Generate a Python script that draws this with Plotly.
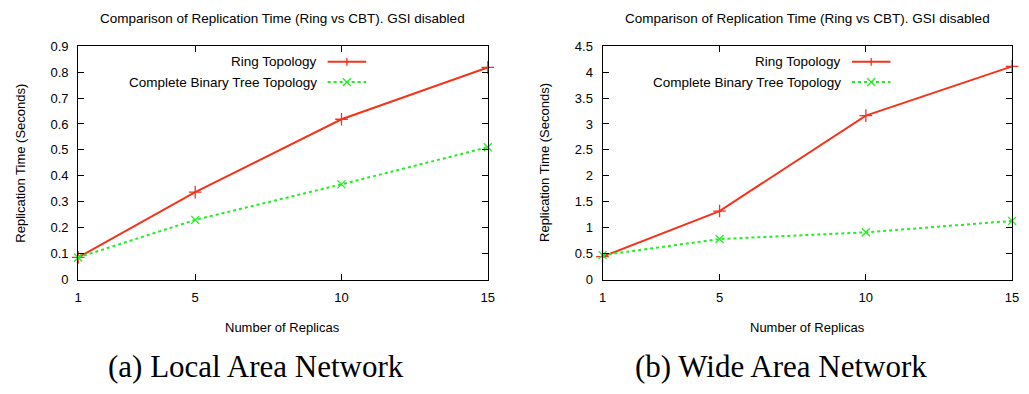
import plotly.graph_objects as go

replicas = [1, 5, 10, 15]
lan_ring = [0.085, 0.337, 0.618, 0.818]
lan_cbt = [0.085, 0.230, 0.367, 0.510]
wan_ring = [0.44, 1.32, 3.16, 4.11]
wan_cbt = [0.47, 0.78, 0.91, 1.13]

chart_title = "Comparison of Replication Time (Ring vs CBT). GSI disabled"
ytitle = "Replication Time (Seconds)"
xtitle = "Number of Replicas"
captions = ["(a) Local Area Network", "(b) Wide Area Network"]
series_names = ["Ring Topology", "Complete Binary Tree Topology"]

RED = "#f5331a"
GREEN = "#1fee1f"
FONT = "Liberation Sans"

W, H = 1029, 394
fig = go.Figure()

panels = [
    dict(x="x", y="y", ring=lan_ring, cbt=lan_cbt, px=(75, 489), yr=[0, 0.9], dt=0.1),
    dict(x="x2", y="y2", ring=wan_ring, cbt=wan_cbt, px=(605, 1019), yr=[0, 4.5], dt=0.5),
]
ptop, pbot = 40.7, 283.3
ydom = [1 - pbot / H, 1 - ptop / H]

for i, p in enumerate(panels):
    fig.add_trace(go.Scatter(x=replicas, y=p["ring"], mode="lines+markers", xaxis=p["x"], yaxis=p["y"],
                             line=dict(color=RED, width=2),
                             marker=dict(symbol="cross-thin", size=9, line=dict(color=RED, width=1.3)),
                             showlegend=False, cliponaxis=False))
    fig.add_trace(go.Scatter(x=replicas, y=p["cbt"], mode="lines+markers", xaxis=p["x"], yaxis=p["y"],
                             line=dict(color=GREEN, width=2, dash="dot"),
                             marker=dict(symbol="x-thin", size=8, line=dict(color=GREEN, width=1.3)),
                             showlegend=False, cliponaxis=False))

    suffix = "" if i == 0 else str(i + 1)
    xdom = [p["px"][0] / W, p["px"][1] / W]
    common = dict(showline=True, linecolor="black", linewidth=1, mirror="ticks", ticks="inside",
                  ticklen=6, tickcolor="black", showgrid=False, zeroline=False,
                  tickfont=dict(family=FONT, size=13, color="black"))
    fig.layout["xaxis" + suffix] = dict(domain=xdom, range=[1, 15], tickvals=replicas, anchor="y" + suffix,
                                       ticklabelstandoff=6, **common)
    fig.layout["yaxis" + suffix] = dict(domain=ydom, range=p["yr"], dtick=p["dt"], anchor="x" + suffix,
                                       ticklabelstandoff=6, **common)

    cx = (p["px"][0] + p["px"][1]) / 2 / W
    fig.add_annotation(text=chart_title, x=cx, y=1 - 12 / H, xref="paper", yref="paper",
                       showarrow=False, font=dict(family=FONT, size=13.5, color="black"),
                       xanchor="center", yanchor="middle")
    fig.add_annotation(text=xtitle, x=cx, y=1 - 333 / H, xref="paper", yref="paper",
                       showarrow=False, font=dict(family=FONT, size=13, color="black"),
                       xanchor="center", yanchor="middle")
    ycx = (p["px"][0] - 58) / W
    fig.add_annotation(text=ytitle, x=ycx, y=1 - (ptop + pbot) / 2 / H, xref="paper", yref="paper",
                       showarrow=False, textangle=-90, font=dict(family=FONT, size=13, color="black"),
                       xanchor="center", yanchor="middle")
    capx = [255, 785][i] / W
    fig.add_annotation(text=captions[i], x=capx, y=1 - 374 / H, xref="paper", yref="paper",
                       showarrow=False, font=dict(family="Liberation Serif", size=31, color="black"),
                       xanchor="center", yanchor="middle")

    xr = "x" + suffix + " domain"
    yrf = "y" + suffix + " domain"
    legend_rows = [(series_names[0], RED, "solid", 0.933), (series_names[1], GREEN, "dot", 0.846)]
    for k, (name, col, dash, ly) in enumerate(legend_rows):
        fig.add_annotation(text=name, x=0.587, y=ly, xref=xr, yref=yrf, showarrow=False,
                           xanchor="right", yanchor="middle", font=dict(family=FONT, size=13.5, color="black"))
        fig.add_shape(type="line", x0=0.609, x1=0.703, y0=ly, y1=ly, xref=xr, yref=yrf,
                      line=dict(color=col, width=2, dash=dash))
        mx = 0.656
        dx, dy = 4 / 414, 4 / 242.6
        if k == 0:
            fig.add_shape(type="line", x0=mx, x1=mx, y0=ly - dy, y1=ly + dy, xref=xr, yref=yrf,
                          line=dict(color=col, width=1.3))
        else:
            fig.add_shape(type="line", x0=mx - dx, x1=mx + dx, y0=ly - dy, y1=ly + dy, xref=xr, yref=yrf,
                          line=dict(color=col, width=1.3))
            fig.add_shape(type="line", x0=mx - dx, x1=mx + dx, y0=ly + dy, y1=ly - dy, xref=xr, yref=yrf,
                          line=dict(color=col, width=1.3))

fig.update_layout(width=W, height=H, margin=dict(l=0, r=0, t=0, b=0),
                  paper_bgcolor="white", plot_bgcolor="white", showlegend=False)
fig.write_html("out.html", config={"displayModeBar": False},
               post_script="document.body.style.margin='0';")
